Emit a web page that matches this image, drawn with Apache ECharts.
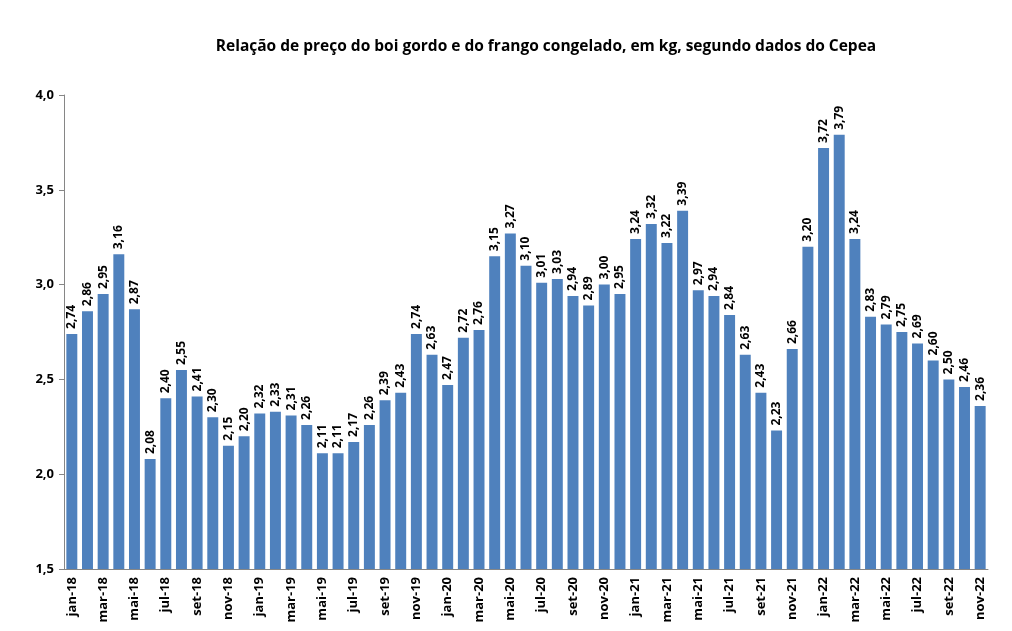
<!DOCTYPE html>
<html>
<head>
<meta charset="utf-8">
<script src="https://cdn.jsdelivr.net/npm/echarts@6/dist/echarts.min.js"></script>
<style>
  html, body { margin: 0; padding: 0; background: #fff; }
  #chart { width: 1012px; height: 631px; }
</style>
</head>
<body>
<div id="chart"></div>
<script>
  const months = [
    "jan-18", "fev-18", "mar-18", "abr-18", "mai-18", "jun-18", "jul-18", "ago-18", "set-18", "out-18", "nov-18", "dez-18",
    "jan-19", "fev-19", "mar-19", "abr-19", "mai-19", "jun-19", "jul-19", "ago-19", "set-19", "out-19", "nov-19", "dez-19",
    "jan-20", "fev-20", "mar-20", "abr-20", "mai-20", "jun-20", "jul-20", "ago-20", "set-20", "out-20", "nov-20", "dez-20",
    "jan-21", "fev-21", "mar-21", "abr-21", "mai-21", "jun-21", "jul-21", "ago-21", "set-21", "out-21", "nov-21", "dez-21",
    "jan-22", "fev-22", "mar-22", "abr-22", "mai-22", "jun-22", "jul-22", "ago-22", "set-22", "out-22", "nov-22"
  ]
  const relacao = [
    2.74, 2.86, 2.95, 3.16, 2.87, 2.08, 2.40, 2.55, 2.41, 2.30, 2.15, 2.20,
    2.32, 2.33, 2.31, 2.26, 2.11, 2.11, 2.17, 2.26, 2.39, 2.43, 2.74, 2.63,
    2.47, 2.72, 2.76, 3.15, 3.27, 3.10, 3.01, 3.03, 2.94, 2.89, 3.00, 2.95,
    3.24, 3.32, 3.22, 3.39, 2.97, 2.94, 2.84, 2.63, 2.43, 2.23, 2.66, 3.20,
    3.72, 3.79, 3.24, 2.83, 2.79, 2.75, 2.69, 2.60, 2.50, 2.46, 2.36
  ]
  const titulo = "Relação de preço do boi gordo e do frango congelado, em kg, segundo dados do Cepea"

  const font = "'Open Sans', 'Noto Sans', sans-serif"

  const options = {
    animation: false,
    title: {
      text: titulo,
      left: 541,
      top: 34,
      textAlign: "center",
      textStyle: {
        fontFamily: font,
        fontSize: 15.5,
        fontWeight: "bold",
        color: "#000",
      },
    },
    grid: {
      left: 64,
      right: 24,
      top: 95,
      bottom: 62,
    },
    xAxis: {
      type: "category",
      data: months,
      axisLine: { lineStyle: { color: "#868686" } },
      axisTick: { interval: 1, length: 5, lineStyle: { color: "#868686" } },
      axisLabel: {
        interval: 1,
        rotate: 90,
        fontFamily: font,
        fontSize: 13,
        fontWeight: "bold",
        color: "#000",
        margin: 8,
      },
    },
    yAxis: {
      type: "value",
      min: 1.5,
      max: 4.0,
      interval: 0.5,
      splitLine: { show: false },
      axisLine: { show: true, lineStyle: { color: "#868686" } },
      axisTick: { show: true, length: 5, lineStyle: { color: "#868686" } },
      axisLabel: {
        fontFamily: font,
        fontSize: 13,
        fontWeight: "bold",
        color: "#000",
        margin: 10,
        formatter: (v) => v.toFixed(1).replace(".", ","),
      },
    },
    series: [
      {
        type: "bar",
        data: relacao,
        barWidth: "70%",
        itemStyle: { color: "#4f81bd" },
        label: {
          show: true,
          position: "top",
          rotate: 90,
          align: "left",
          verticalAlign: "middle",
          distance: 5,
          fontFamily: font,
          fontSize: 12,
          fontWeight: "bold",
          color: "#000",
          formatter: (p) => p.value.toFixed(2).replace(".", ","),
        },
      },
    ],
  }

  let dom = document.getElementById("chart")
  let myChart = echarts.init(dom)
  myChart.setOption(options)
  window.addEventListener("resize", () => myChart.resize(), false)
</script>
</body>
</html>
